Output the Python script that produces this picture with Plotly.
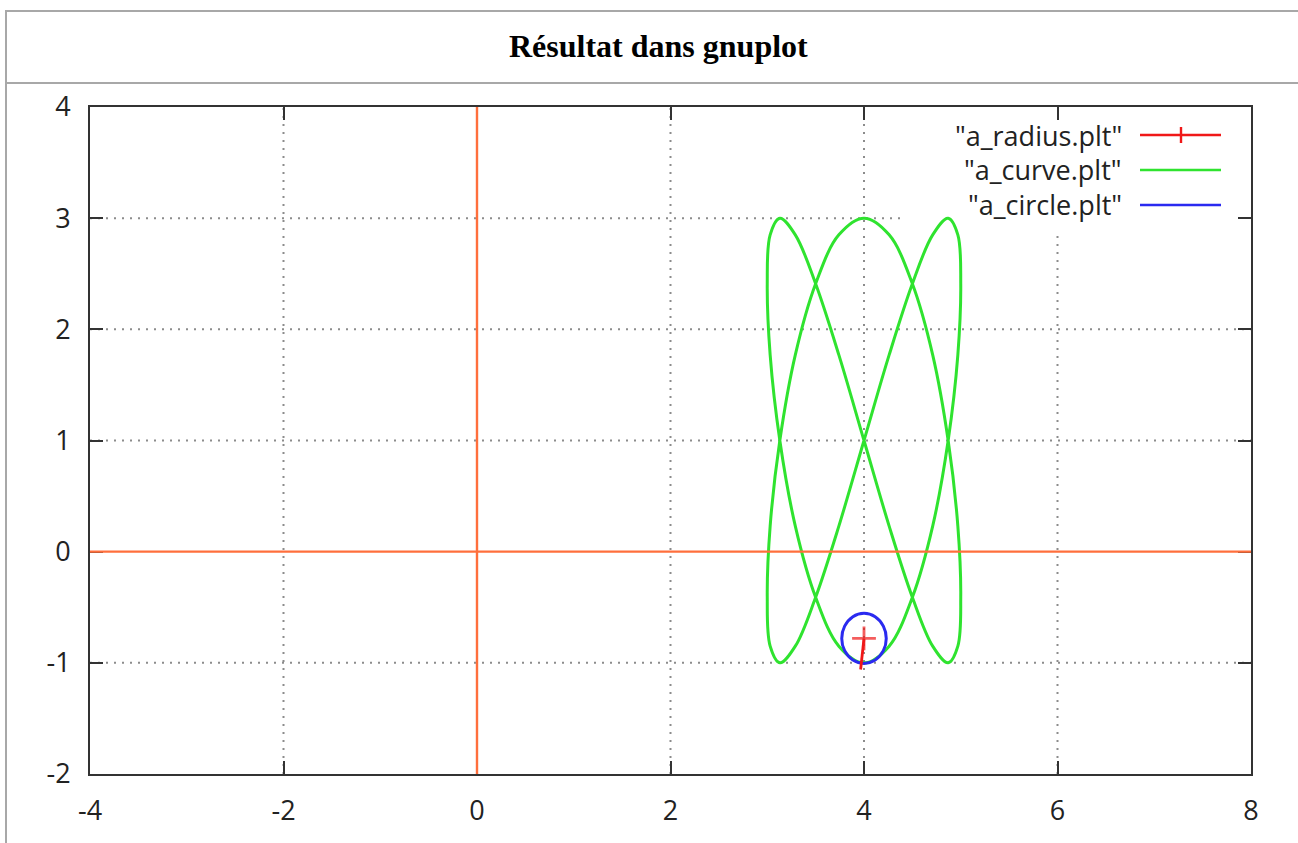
import plotly.graph_objects as go

# ---------------- data ----------------
title_text = "Résultat dans gnuplot"
series_names = ['"a_radius.plt"', '"a_curve.plt"', '"a_circle.plt"']

x_ticks = [-4, -2, 0, 2, 4, 6, 8]
y_ticks = [-2, -1, 0, 1, 2, 3, 4]

curve_x = [4.00, 4.26, 4.50, 4.71, 4.87, 4.97, 5.00, 4.97, 4.87, 4.71, 4.50, 4.26,
           4.00, 3.74, 3.50, 3.29, 3.13, 3.03, 3.00, 3.03, 3.13, 3.29, 3.50, 3.74,
           4.00, 4.26, 4.50, 4.71, 4.87, 4.97, 5.00, 4.97, 4.87, 4.71, 4.50, 4.26,
           4.00, 3.74, 3.50, 3.29, 3.13, 3.03, 3.00, 3.03, 3.13, 3.29, 3.50, 3.74, 4.00]
curve_y = [1.00, 1.77, 2.41, 2.85, 3.00, 2.85, 2.41, 1.77, 1.00, 0.23, -0.41, -0.85,
           -1.00, -0.85, -0.41, 0.23, 1.00, 1.77, 2.41, 2.85, 3.00, 2.85, 2.41, 1.77,
           1.00, 0.23, -0.41, -0.85, -1.00, -0.85, -0.41, 0.23, 1.00, 1.77, 2.41, 2.85,
           3.00, 2.85, 2.41, 1.77, 1.00, 0.23, -0.41, -0.85, -1.00, -0.85, -0.41, 0.23, 1.00]

circle_x = [4.23, 4.20, 4.115, 4.00, 3.885, 3.80, 3.77, 3.80, 3.885, 4.00, 4.115, 4.20, 4.23]
circle_y = [-0.78, -0.67, -0.585, -0.555, -0.585, -0.67, -0.78, -0.89, -0.975, -1.005, -0.975, -0.89, -0.78]

radius_x = [4.00, 3.965]
radius_y = [-0.78, -1.06]

# ---------------- layout helpers ----------------
W, H = 1298, 843
L, R, T, B = 90, 1251, 107, 774


def px_x(p):
    return (p - L) / (R - L)


def px_y(p):
    return (B - p) / (B - T)


RED = "#f01818"
GREEN = "#2fe32f"
BLUE = "#2a2af0"
ORANGE = "#ff6f3c"
FRAME = "#333333"
GRID = "#8c8c8c"
TXT = "#222222"

fig = go.Figure()

fig.add_trace(go.Scatter(x=curve_x, y=curve_y, mode="lines", name=series_names[1],
                         line=dict(color=GREEN, width=3, shape="spline", smoothing=1.0)))
fig.add_trace(go.Scatter(x=circle_x, y=circle_y, mode="lines", name=series_names[2],
                         line=dict(color=BLUE, width=3, shape="spline", smoothing=1.0)))
fig.add_trace(go.Scatter(x=radius_x, y=radius_y, mode="lines+markers", name=series_names[0],
                         line=dict(color=RED, width=2.8),
                         marker=dict(symbol="cross-thin-open", size=[17, 0],
                                     line=dict(color=RED, width=2.8))))

shapes = []
# dotted grid (gnuplot style, partially hidden behind the key box)
for xv in x_ticks[1:-1]:
    if xv == 0:
        continue
    ytop = 2.85 if xv == 6 else y_ticks[-1]
    shapes.append(dict(type="line", xref="x", yref="y", x0=xv, x1=xv, y0=y_ticks[0], y1=ytop,
                       line=dict(color=GRID, width=2, dash="2px,6px"), layer="below"))
for yv in y_ticks[1:-1]:
    if yv == 0:
        continue
    xright = 4.4 if yv == 3 else x_ticks[-1]
    shapes.append(dict(type="line", xref="x", yref="y", x0=x_ticks[0], x1=xright, y0=yv, y1=yv,
                       line=dict(color=GRID, width=2, dash="2px,6px"), layer="below"))

# zero axes (orange), spanning the whole frame, drawn on top like gnuplot
shapes.append(dict(type="line", xref="x", yref="y", x0=0, x1=0, y0=y_ticks[0], y1=y_ticks[-1],
                   line=dict(color=ORANGE, width=2.4), layer="above"))
shapes.append(dict(type="line", xref="x", yref="y", x0=x_ticks[0], x1=x_ticks[-1], y0=0, y1=0,
                   line=dict(color=ORANGE, width=2.4), layer="above"))

# page/table borders around the chart
BORDER = dict(color="#a8a8a8", width=2)
shapes.append(dict(type="line", xref="paper", yref="paper", x0=px_x(6), x1=px_x(1300),
                   y0=px_y(11), y1=px_y(11), line=BORDER))
shapes.append(dict(type="line", xref="paper", yref="paper", x0=px_x(6), x1=px_x(1300),
                   y0=px_y(83), y1=px_y(83), line=BORDER))
shapes.append(dict(type="line", xref="paper", yref="paper", x0=px_x(6), x1=px_x(6),
                   y0=px_y(10), y1=px_y(845), line=BORDER))

# key (gnuplot style: text then sample on the right)
key_rows = [135, 170, 205]
key_colors = [RED, GREEN, BLUE]
annotations = []
for name, row, col in zip(series_names, key_rows, key_colors):
    annotations.append(dict(x=px_x(1124), y=px_y(row), xref="paper", yref="paper",
                            text=name, showarrow=False, xanchor="right", yanchor="middle",
                            font=dict(family="Open Sans", size=27, color=TXT)))
    shapes.append(dict(type="line", xref="paper", yref="paper", x0=px_x(1140), x1=px_x(1221),
                       y0=px_y(row), y1=px_y(row), line=dict(color=col, width=2.4)))
shapes.append(dict(type="line", xref="paper", yref="paper", x0=px_x(1181), x1=px_x(1181),
                   y0=px_y(key_rows[0] - 8), y1=px_y(key_rows[0] + 8), line=dict(color=RED, width=2.4)))

annotations.append(dict(x=px_x(658), y=px_y(46), xref="paper", yref="paper", text="<b>" + title_text + "</b>",
                        showarrow=False, xanchor="center", yanchor="middle",
                        font=dict(family="Liberation Serif", size=32, color="#000000")))

axis_common = dict(showgrid=False, showline=True, linecolor=FRAME, linewidth=2, mirror="ticks",
                   ticks="inside", ticklen=13, tickwidth=2, tickcolor=FRAME,
                   zeroline=False,
                   tickfont=dict(family="Open Sans", size=27, color=TXT))

fig.update_layout(
    width=W, height=H,
    margin=dict(l=L, r=W - R, t=T, b=H - B, pad=0),
    paper_bgcolor="white", plot_bgcolor="white",
    showlegend=False,
    shapes=shapes, annotations=annotations,
    xaxis=dict(range=[x_ticks[0], x_ticks[-1]], tickvals=x_ticks, ticktext=[str(v) for v in x_ticks],
               ticklabelstandoff=12, **axis_common),
    yaxis=dict(range=[y_ticks[0], y_ticks[-1]], tickvals=y_ticks, ticktext=[str(v) for v in y_ticks],
               ticklabelstandoff=12, **axis_common),
)

fig.write_html("out.html")
